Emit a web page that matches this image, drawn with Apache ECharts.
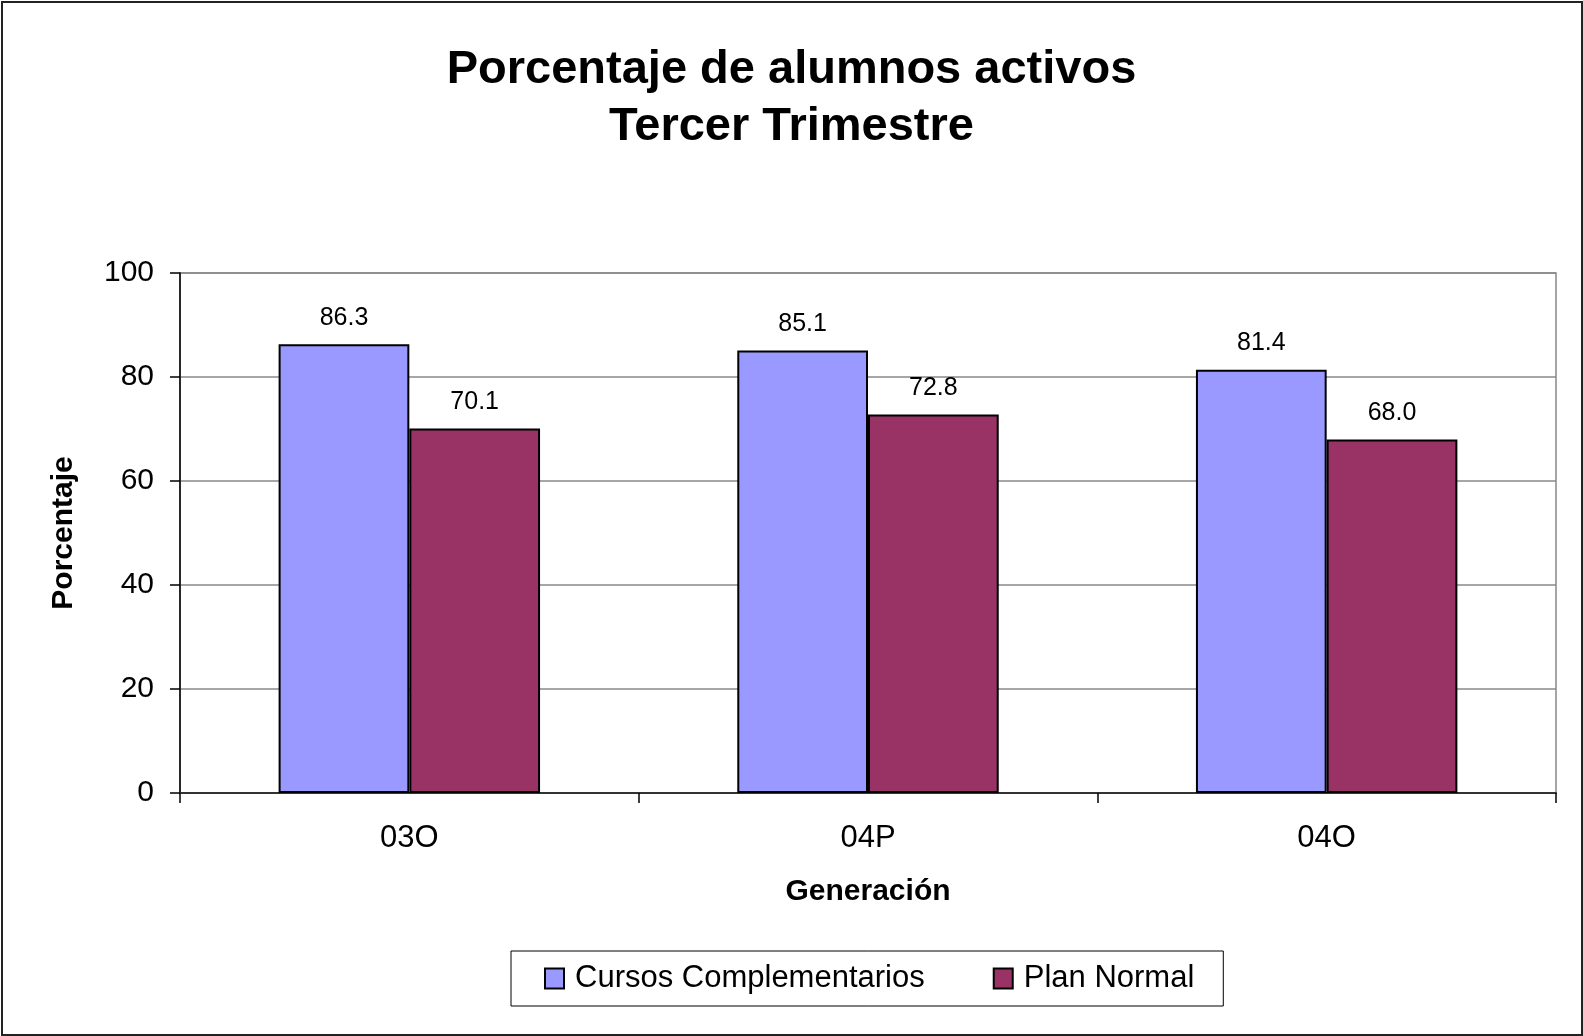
<!DOCTYPE html>
<html>
<head>
<meta charset="utf-8">
<title>Porcentaje de alumnos activos</title>
<script src="https://cdn.jsdelivr.net/npm/echarts@6/dist/echarts.min.js"></script>
<style>
    html, body { margin: 0; padding: 0; background: #fff; }
    #BarChartAlumnos { width: 1583px; height: 1036px; }
</style>
</head>
<body>
<div id="BarChartAlumnos"></div>
<script>
// datos
var generaciones = ['03O', '04P', '04O'];
var cursosComplementarios = [86.3, 85.1, 81.4];
var planNormal = [70.1, 72.8, 68.0];
var yTicks = [0, 20, 40, 60, 80, 100];

var fuente = '"Liberation Sans", Arial, sans-serif';

//BarChartAlumnos
function drawBarChartAlumnos() {
    var dom = document.getElementById("BarChartAlumnos");
    var myChart = echarts.init(dom);
    var option = null;

    var etiqueta = {
        show: true,
        position: 'top',
        distance: 14,
        color: '#000',
        fontFamily: fuente,
        fontSize: 25,
        formatter: function (p) {
            return p.value.toFixed(1);
        }
    };

    option = {
        backgroundColor: '#fff',
        animation: false,
        title: {
            text: 'Porcentaje de alumnos activos\nTercer Trimestre',
            left: 'center',
            top: 37,
            textStyle: {
                fontFamily: fuente,
                fontSize: 47,
                fontWeight: 'bold',
                color: '#000',
                lineHeight: 57
            }
        },
        legend: {
            left: 511,
            top: 951,
            orient: 'horizontal',
            icon: 'rect',
            itemWidth: 19,
            itemHeight: 20,
            itemGap: 68,
            padding: [12, 29, 12, 33],
            borderColor: '#000',
            borderWidth: 1,
            itemStyle: { borderColor: '#000', borderWidth: 2 },
            textStyle: {
                fontFamily: fuente,
                fontSize: 31,
                color: '#000',
                padding: [0, 0, 0, 6]
            },
            data: ['Cursos Complementarios', 'Plan Normal']
        },
        grid: {
            left: 180,
            right: 27,
            top: 273,
            bottom: 243,
            show: true,
            borderColor: '#888',
            borderWidth: 1.5
        },
        xAxis: {
            type: 'category',
            data: generaciones,
            name: 'Generación',
            nameLocation: 'middle',
            nameGap: 84,
            nameTextStyle: {
                fontFamily: fuente,
                fontSize: 30,
                fontWeight: 'bold',
                color: '#000'
            },
            axisLine: { lineStyle: { color: '#333', width: 2 } },
            axisTick: { show: true, length: 10, lineStyle: { color: '#000', width: 1.5 } },
            axisLabel: {
                margin: 30,
                fontFamily: fuente,
                fontSize: 31,
                color: '#000'
            }
        },
        yAxis: {
            type: 'value',
            min: yTicks[0],
            max: yTicks[yTicks.length - 1],
            interval: yTicks[1] - yTicks[0],
            name: 'Porcentaje',
            nameLocation: 'middle',
            nameGap: 101,
            nameTextStyle: {
                fontFamily: fuente,
                fontSize: 30,
                fontWeight: 'bold',
                color: '#000'
            },
            axisLine: { show: true, lineStyle: { color: '#000', width: 1.5 } },
            axisTick: { show: true, length: 10, lineStyle: { color: '#000', width: 1.5 } },
            axisLabel: {
                margin: 26,
                fontFamily: fuente,
                fontSize: 30,
                color: '#000'
            },
            splitLine: { show: true, lineStyle: { color: '#888', width: 1.5 } }
        },
        series: [
            {
                name: 'Cursos Complementarios',
                type: 'bar',
                data: cursosComplementarios,
                barGap: '0%',
                barCategoryGap: '43%',
                itemStyle: { color: '#9999FF', borderColor: '#000', borderWidth: 2 },
                label: etiqueta
            },
            {
                name: 'Plan Normal',
                type: 'bar',
                data: planNormal,
                barGap: '0%',
                barCategoryGap: '43%',
                itemStyle: { color: '#993366', borderColor: '#000', borderWidth: 2 },
                label: etiqueta
            }
        ],
        graphic: [
            {
                type: 'rect',
                shape: { x: 2, y: 2, width: 1580, height: 1033 },
                style: { fill: 'none', stroke: '#222', lineWidth: 2 },
                silent: true
            }
        ]
    };

    if (option && typeof option === "object") {
        myChart.setOption(option, true);
    }
}

drawBarChartAlumnos();
</script>
</body>
</html>
